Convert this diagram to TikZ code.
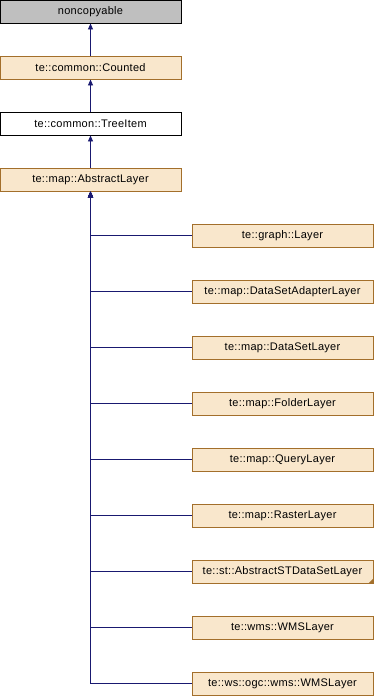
\documentclass[tikz,border=0pt]{standalone}
\usepackage{fontspec}
\setmainfont{Liberation Sans}[LetterSpace=2.5]
\usetikzlibrary{arrows.meta,calc}
\definecolor{boxfill}{RGB}{249,231,204}
\definecolor{boxline}{RGB}{163,111,43}
\definecolor{edgeblue}{RGB}{25,25,112}
\definecolor{greyfill}{RGB}{191,191,191}
\tikzset{
  cls/.style={draw=boxline, fill=boxfill, line width=0.9pt, minimum width=181pt, minimum height=23pt, inner sep=0pt, font=\fontsize{11}{13}\selectfont},
  plain/.style={cls, draw=black, fill=white},
  grey/.style={cls, draw=black, fill=greyfill},
  inh/.style={draw=edgeblue, line width=0.9pt, -{Stealth[length=6pt,width=5pt,inset=0pt]}},
}
\begin{document}
\begin{tikzpicture}[x=1pt,y=-1pt]
\useasboundingbox (0,0) rectangle (374,696);
\node[grey]  (nc) at (90.5,11.5) {noncopyable};
\node[cls]   (ct) at (90.5,67.5) {te::common::Counted};
\node[plain] (ti) at (90.5,123.5) {te::common::TreeItem};
\node[cls]   (al) at (90.5,179.5) {te::map::AbstractLayer};
\node[cls] (r1) at (282.5,235.5) {te::graph::Layer};
\node[cls] (r2) at (282.5,291.5) {te::map::DataSetAdapterLayer};
\node[cls] (r3) at (282.5,347.5) {te::map::DataSetLayer};
\node[cls] (r4) at (282.5,403.5) {te::map::FolderLayer};
\node[cls] (r5) at (282.5,459.5) {te::map::QueryLayer};
\node[cls] (r6) at (282.5,515.5) {te::map::RasterLayer};
\node[cls] (r7) at (282.5,571.5) {te::st::AbstractSTDataSetLayer};
\node[cls] (r8) at (282.5,627.5) {te::wms::WMSLayer};
\node[cls] (r9) at (282.5,683.5) {te::ws::ogc::wms::WMSLayer};
\fill[boxline] (r7.south east) -- ++(-5,0) -- ++(5,-5) -- cycle;
\draw[inh] (ct) -- (nc);
\draw[inh] (ti) -- (ct);
\draw[inh] (al) -- (ti);
\foreach \r in {r1,r2,r3,r4,r5,r6,r7,r8,r9}{
  \draw[inh] (\r.west) -- (\r.west -| al.south) -- (al.south);
}
\end{tikzpicture}
\end{document}
